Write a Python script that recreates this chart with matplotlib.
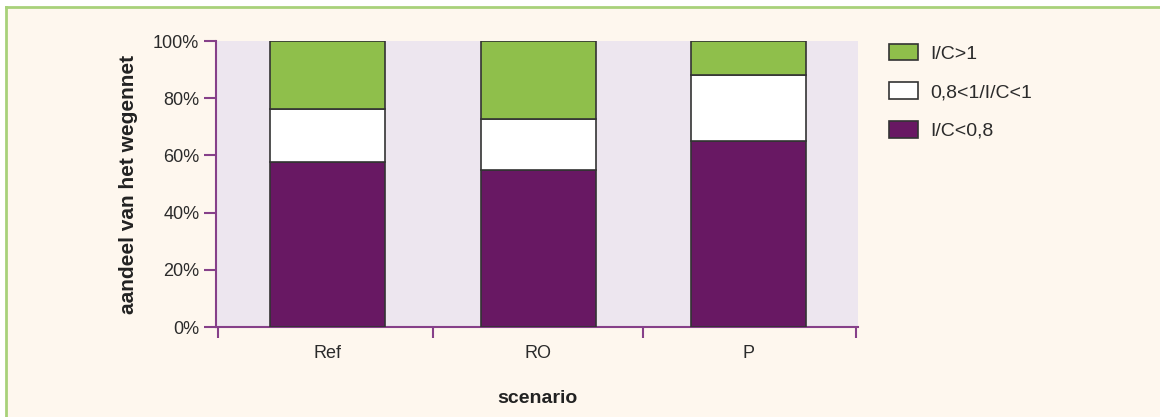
import matplotlib
matplotlib.use("Agg")
import matplotlib.pyplot as plt
from matplotlib.patches import Rectangle
from matplotlib.lines import Line2D
import numpy as np

plt.rcParams['font.family'] = ['Liberation Sans', 'DejaVu Sans']

scenarios = ["Ref", "RO", "P"]
low = [57.6, 54.8, 65.1]        # I/C<0,8
mid = [18.5, 17.9, 23.0]        # 0,8<1/I/C<1
high = [23.9, 27.3, 11.9]       # I/C>1
labels = ["I/C>1", "0,8<1/I/C<1", "I/C<0,8"]
yticks = [0, 20, 40, 60, 80, 100]

purple = "#681863"
green = "#8FBF4B"
cream = "#FEF7EE"
axis_col = "#864089"
edge = "#333333"
fs = 13

fig = plt.figure(figsize=(11.6, 4.17), dpi=100, facecolor="white")

# cream panel with green rule along top and left
fig.add_artist(Rectangle((6 / 1160, 0), 1, 1 - 7 / 417, transform=fig.transFigure,
                         facecolor=cream, edgecolor="none", zorder=-2))
fig.add_artist(Line2D([5.5 / 1160, 1], [1 - 6.5 / 417] * 2, transform=fig.transFigure,
                      color="#A8D17A", lw=2, zorder=-1))
fig.add_artist(Line2D([5.5 / 1160] * 2, [0, 1 - 6.5 / 417], transform=fig.transFigure,
                      color="#A8D17A", lw=2, zorder=-1))

ax = fig.add_axes([216 / 1160, 1 - 327 / 417, 642 / 1160, 286 / 417])
ax.set_zorder(1)
ax.set_facecolor("#EDE6EF")

x = np.arange(len(scenarios))
w = 0.546
b1 = ax.bar(x, low, w, color=purple, edgecolor=edge, lw=1.2, label=labels[2], zorder=3)
b2 = ax.bar(x, mid, w, bottom=low, color="white", edgecolor=edge, lw=1.2, label=labels[1], zorder=3)
b3 = ax.bar(x, high, w, bottom=np.array(low) + np.array(mid), color=green, edgecolor=edge,
            lw=1.2, label=labels[0], zorder=3)

ax.set_xlim(-0.53, 2.52)
ax.set_ylim(0, 100)
ax.set_yticks(yticks)
ax.set_yticklabels([f"{v}%" for v in yticks])
ax.set_xticks(x)
ax.set_xticklabels(scenarios)
ax.set_xticks([-0.52, 0.5, 1.5, 2.51], minor=True)
ax.tick_params(axis="x", which="major", length=0, pad=13, labelsize=fs, labelcolor="#2b2b2b")
ax.tick_params(axis="x", which="minor", length=8, width=1.5, color=axis_col, direction="out")
ax.tick_params(axis="y", length=9, width=1.5, color=axis_col, pad=3, labelsize=fs, labelcolor="#2b2b2b")

for s in ["top", "right"]:
    ax.spines[s].set_visible(False)
for s in ["left", "bottom"]:
    ax.spines[s].set_color(axis_col)
    ax.spines[s].set_linewidth(1.5)

ax.set_ylabel("aandeel van het wegennet", fontsize=15, fontweight="bold", color="#222222", labelpad=11)
ax.set_xlabel("scenario", fontsize=14, fontweight="bold", color="#222222", labelpad=20)

fig.legend(handles=[b3, b2, b1], labels=labels, loc="upper left",
           bbox_to_anchor=(879 / 1160, 1 - 34 / 417), frameon=False, fontsize=14,
           handlelength=1.5, handleheight=0.95, handletextpad=0.65, labelspacing=1.0,
           borderpad=0, labelcolor="#2b2b2b")

fig.savefig("out.png", dpi=100, facecolor=fig.get_facecolor())
